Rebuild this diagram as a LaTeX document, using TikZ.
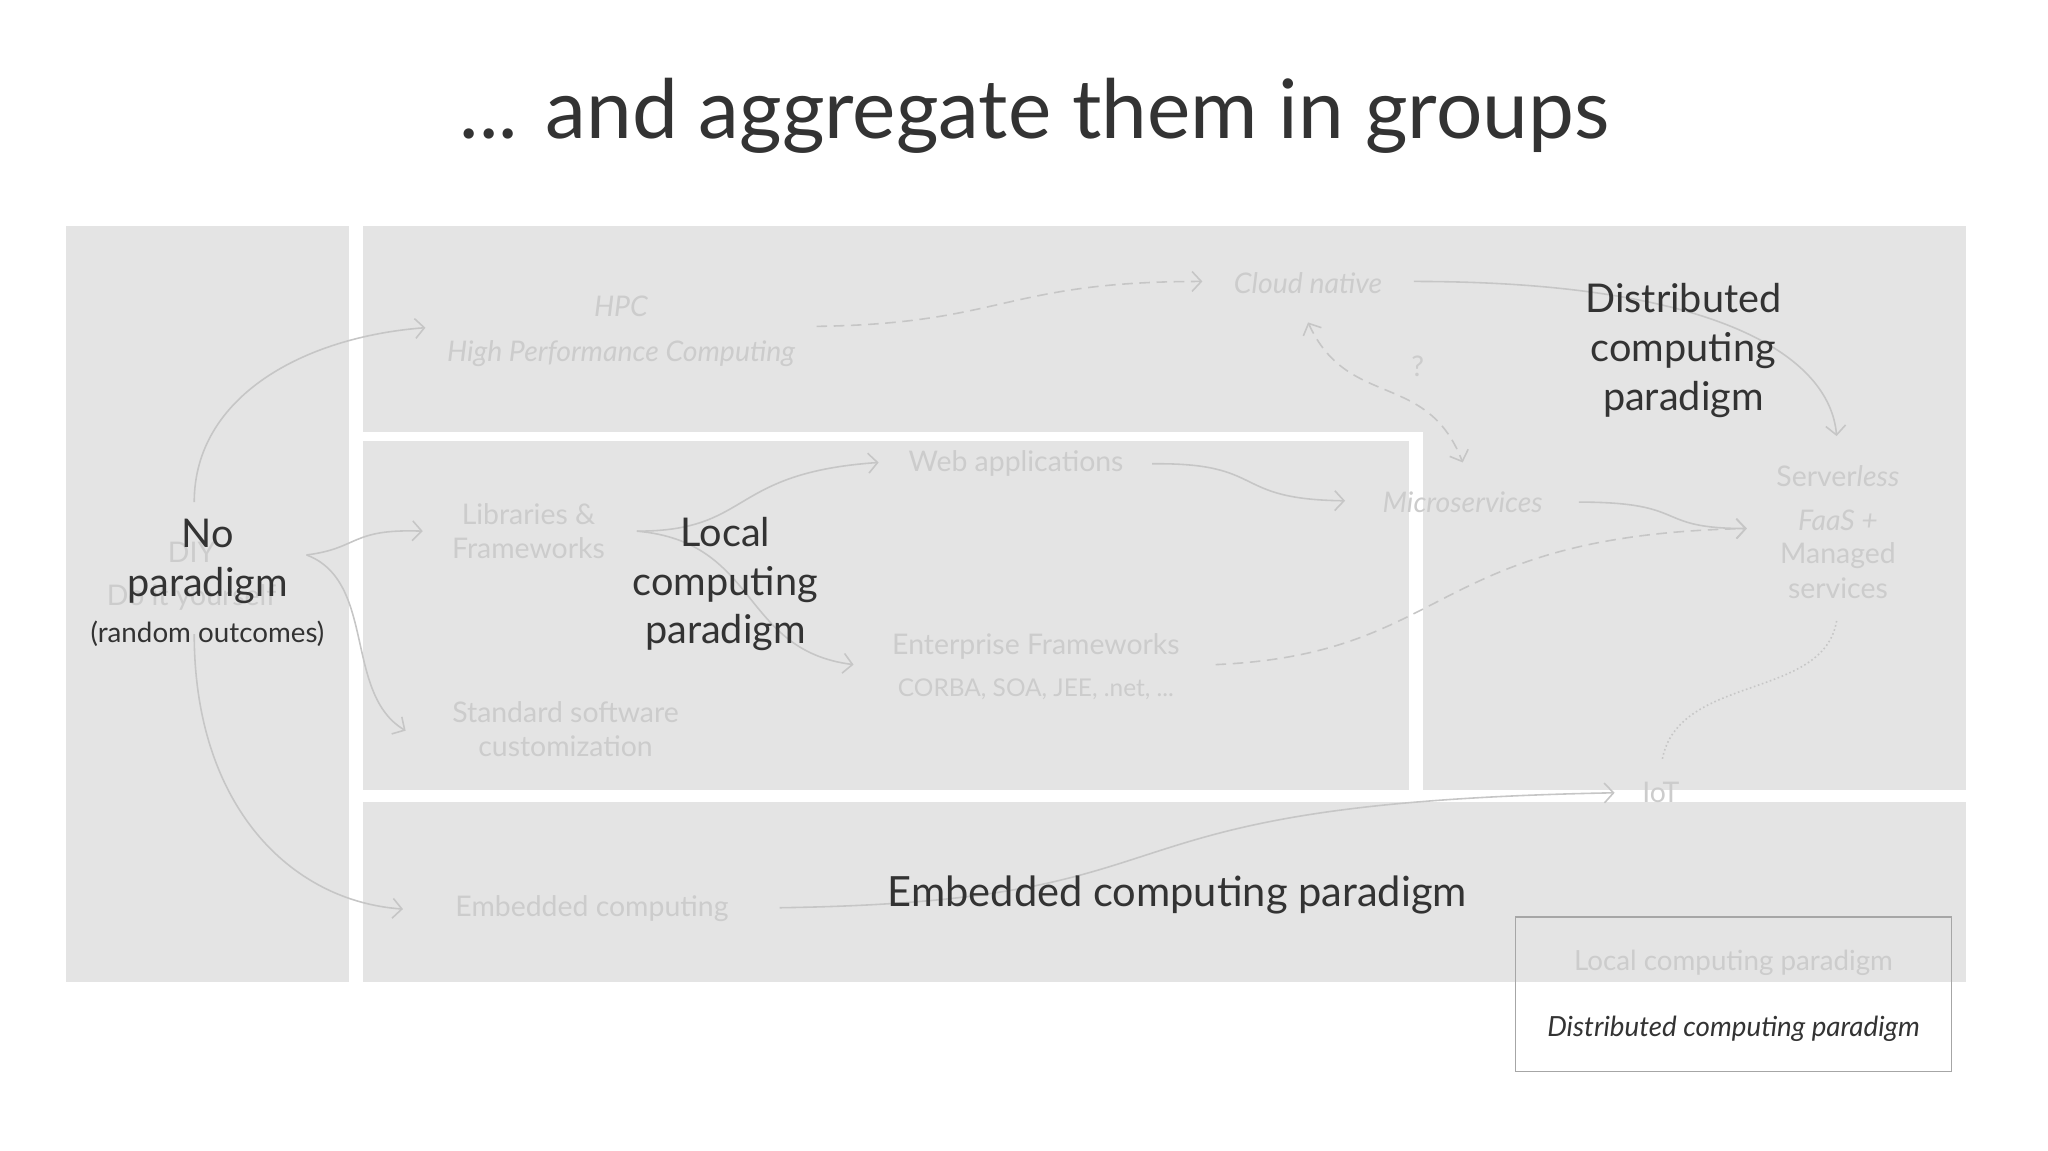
\documentclass[tikz,border=0pt]{standalone}
\usepackage{fontspec}
\setmainfont{Lato}
\usetikzlibrary{arrows.meta}
\definecolor{bg}{HTML}{E4E4E4}
\definecolor{faded}{HTML}{CCCCCC}
\definecolor{arr}{HTML}{C6C6C6}
\definecolor{dark}{HTML}{333333}
\tikzset{
 region/.style={fill=bg,draw=none},
 ftext/.style={text=faded,font=\fontsize{21.5}{26}\selectfont,align=center,inner sep=0pt},
 fit/.style={ftext,font=\fontsize{21.5}{26}\selectfont\itshape},
 dtext/.style={text=dark,font=\fontsize{30}{37}\selectfont,align=center,inner sep=0pt},
 con/.style={draw=arr,line width=1.2pt,-{Straight Barb[length=7pt,width=15pt]}},
 longdash/.style={dash pattern=on 8pt off 5pt},
}
\begin{document}
\begin{tikzpicture}[x=1pt,y=-1pt]
\useasboundingbox (0,0) rectangle (1550,871);
% regions
\fill[region] (50,171) rectangle (264,743);
\fill[region] (275,171) rectangle (1488,327);
\fill[region] (1077,327) rectangle (1488,598);
\fill[region] (275,334) rectangle (1066,598);
\fill[region] (275,607) rectangle (1488,743);
% title
\node[text=dark,font=\fontsize{62}{70}\selectfont,inner sep=0pt] (title) at (783,88) {... and aggregate them in groups};
% faded nodes
\node[ftext] (diy) at (145,418) {DIY};
\node[ftext] (diy2) at (145,452) {Do it yourself};
\node[fit] (hpc) at (470,232) {HPC};
\node[fit] (hpc2) at (470,268) {High Performance Computing};
\node[fit] (cloud) at (990,214) {Cloud native};
\node[ftext] (q) at (1073,277) {?};
\node[ftext] (web) at (769,351) {Web applications};
\node[fit] (micro) at (1107,380) {Microservices};
\node[ftext] (srv) at (1391,360) {Server\textit{less}};
\node[fit] (faas) at (1391,394) {FaaS +};
\node[ftext] (man) at (1391,432) {Managed\\services};
\node[ftext] (lib) at (400,402) {Libraries \&\\Frameworks};
\node[ftext] (ent) at (784,489) {Enterprise Frameworks};
\node[ftext,font=\fontsize{18.5}{22}\selectfont] (ent2) at (784,522) {CORBA, SOA, JEE, .net, ...};
\node[ftext] (std) at (428,552) {Standard software\\customization};
\node[ftext] (emb) at (448,688) {Embedded computing};
\node[ftext] (iot) at (1257,600) {IoT};
% connectors
\draw[con] (147,380) .. controls (147,300) and (230,255) .. (322,248);
\draw[con] (147,480) .. controls (147,610) and (220,682) .. (305,688);
\draw[con] (232,420) .. controls (272,415) and (265,400) .. (320,402);
\draw[con] (232,420) .. controls (285,440) and (260,525) .. (307,553);
\draw[con] (482,402) .. controls (570,402) and (550,358) .. (665,350);
\draw[con] (482,402) .. controls (575,410) and (560,492) .. (646,503);
\draw[con,longdash] (618,247) .. controls (760,245) and (760,213) .. (910,213);
\draw[con] (1070,213) .. controls (1300,213) and (1385,270) .. (1390,330);
\draw[con,longdash,{Straight Barb[length=7pt,width=15pt]}-{Straight Barb[length=7pt,width=15pt]}] (990,244) .. controls (1020,310) and (1080,280) .. (1107,350);
\draw[con] (872,351) .. controls (960,350) and (930,378) .. (1018,379);
\draw[con] (1195,380) .. controls (1280,380) and (1250,400) .. (1322,400);
\draw[con,longdash] (920,503) .. controls (1100,495) and (1080,405) .. (1322,400);
\draw[draw=arr,line width=1.2pt,dotted] (1390,470) .. controls (1380,530) and (1270,510) .. (1258,575);
\draw[con] (590,687) .. controls (930,682) and (800,608) .. (1222,600);
% dark labels
\node[dtext] (nop) at (157,425) {No\\paradigm};
\node[text=dark,font=\fontsize{21}{24}\selectfont,inner sep=0pt] (rand) at (157,480) {(random outcomes)};
\node[dtext] (loc) at (549,442) {Local\\computing\\paradigm};
\node[dtext] (dis) at (1274,265) {Distributed\\computing\\paradigm};
\node[dtext,font=\fontsize{31.5}{37}\selectfont] (embp) at (891,677) {Embedded computing paradigm};
% legend
\fill[white] (1147,743) rectangle (1477,811);
\draw[draw=gray!70,line width=0.8pt] (1147,694) rectangle (1477,811);
\node[ftext,font=\fontsize{21}{24}\selectfont] (lg1) at (1312,729) {Local computing paradigm};
\node[text=dark,font=\fontsize{21}{24}\selectfont\itshape,inner sep=0pt] (lg2) at (1312,779) {Distributed computing paradigm};
\end{tikzpicture}
\end{document}
